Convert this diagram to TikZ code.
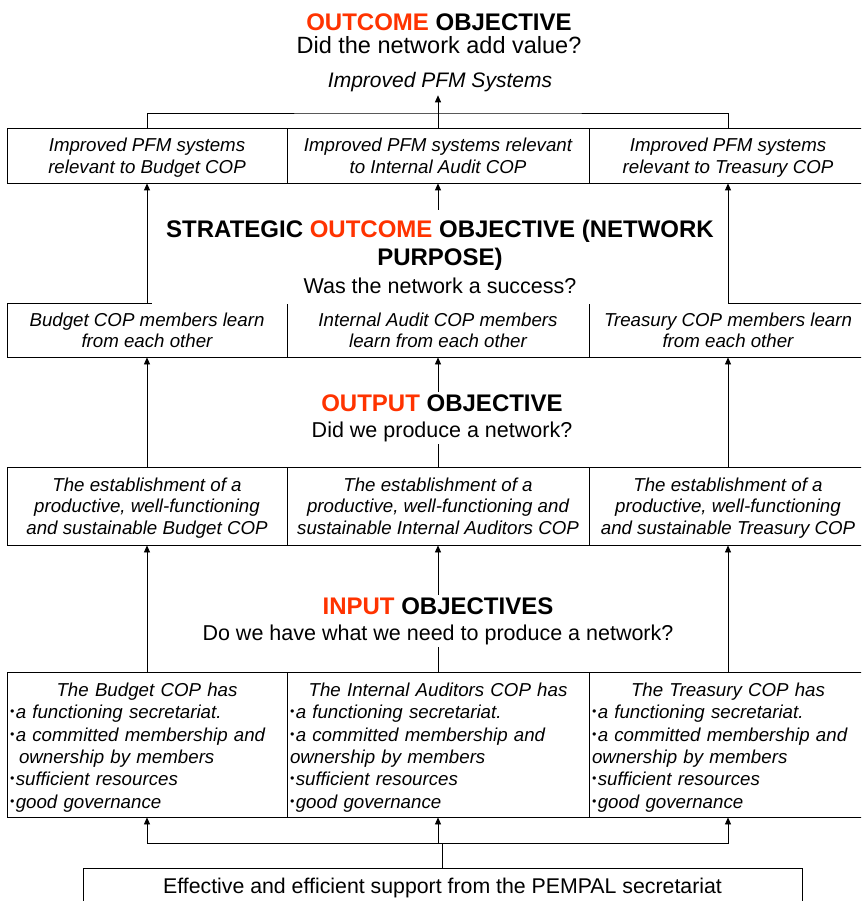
\documentclass[tikz,border=0pt]{standalone}
\usepackage{fontspec}
\setmainfont{Liberation Sans}
\usetikzlibrary{arrows.meta}

\definecolor{flame}{HTML}{FF3300}
\newcommand{\dotmark}{\raisebox{0.3ex}{\scalebox{0.65}{•}}\hspace{1.5pt}}

\begin{document}
\begin{tikzpicture}[x=1pt,y=-1pt,
  cell/.style={draw, line width=0.8pt, align=center, inner sep=0pt, text depth=-1pt,
    font=\fontsize{18.7}{21.5}\selectfont\itshape},
  listcell/.style={draw, line width=0.8pt, align=left, inner xsep=3pt,
    font=\fontsize{18.7}{22.4}\selectfont\itshape},
  heading/.style={align=center, fill=white, inner sep=2pt,
    font=\fontsize{24}{26}\selectfont},
  arr/.style={-{Triangle[length=7pt,width=6pt]}, line width=0.8pt},
  feed/.style={line width=1.3pt}]

\useasboundingbox (0,0) rectangle (861,901);
\clip (0,0) rectangle (861,901);

% outcome
\node[heading] (out-title) at (439,34)
  {\textbf{\textcolor{flame}{OUTCOME} OBJECTIVE}\\[-3pt]
   {\fontsize{23.5}{26}\selectfont Did the network add value?}};
\node[font=\fontsize{21}{24}\selectfont\itshape] (goal) at (440,82) {Improved PFM Systems};

\node[cell, minimum width=280, minimum height=55] (imp-b) at (147,155.5)
  {Improved PFM systems\\relevant to Budget COP};
\node[cell, minimum width=302, minimum height=55] (imp-i) at (438,155.5)
  {Improved PFM systems relevant\\to Internal Audit COP};
\node[cell, minimum width=278, minimum height=55] (imp-t) at (728,155.5)
  {Improved PFM systems\\relevant to Treasury COP};

% network purpose
\node[cell, minimum width=280, minimum height=54] (learn-b) at (147,330)
  {Budget COP members learn\\from each other};
\node[cell, minimum width=302, minimum height=54] (learn-i) at (438,330)
  {Internal Audit COP members\\learn from each other};
\node[cell, minimum width=278, minimum height=54] (learn-t) at (728,330)
  {Treasury COP members learn\\from each other};

% output
\node[cell, minimum width=280, minimum height=78] (est-b) at (147,506)
  {The establishment of a\\productive, well-functioning\\and sustainable Budget COP};
\node[cell, minimum width=302, minimum height=78] (est-i) at (438,506)
  {The establishment of a\\productive, well-functioning and\\sustainable Internal Auditors COP};
\node[cell, minimum width=278, minimum height=78] (est-t) at (728,506)
  {The establishment of a\\productive, well-functioning\\and sustainable Treasury COP};

% input
\node[listcell, text width=274, minimum height=145] (has-b) at (147,744.5)
  {\rule{0pt}{19.5pt}\makebox[274pt]{The Budget COP has}\\
   \dotmark a functioning secretariat.\\
   \dotmark a committed membership and\\
   \hspace*{9pt}ownership by members\\
   \dotmark sufficient resources\\
   \dotmark good governance};
\node[listcell, text width=296, minimum height=145] (has-i) at (438,744.5)
  {\rule{0pt}{19.5pt}\makebox[296pt]{The Internal Auditors COP has}\\
   \dotmark a functioning secretariat.\\
   \dotmark a committed membership and\\
   ownership by members\\
   \dotmark sufficient resources\\
   \dotmark good governance};
\node[listcell, text width=272, minimum height=145] (has-t) at (728,744.5)
  {\rule{0pt}{19.5pt}\makebox[272pt]{The Treasury COP has}\\
   \dotmark a functioning secretariat.\\
   \dotmark a committed membership and\\
   ownership by members\\
   \dotmark sufficient resources\\
   \dotmark good governance};

\node[draw, line width=0.8pt, minimum width=719, minimum height=40,
  font=\fontsize{21.3}{24}\selectfont] (support) at (442.5,888)
  {Effective and efficient support from the PEMPAL secretariat};

% middle links (cut by the headings)
\draw[arr] (imp-i.north) -- (imp-i.north |- goal.south);
\draw[arr] (learn-i.north) -- (imp-i.south);
\draw[arr] (est-i.north) -- (learn-i.south);
\draw[arr] (has-i.north) -- (est-i.south);

\coordinate (join) at (438,113);
\draw[line width=0.8pt] (imp-b.north) |- (join) -| (imp-t.north);

\node[heading, minimum width=576, minimum height=94] (purpose-title) at (440,257)
  {\textbf{STRATEGIC \textcolor{flame}{OUTCOME} OBJECTIVE (NETWORK}\\[2pt]
   \textbf{PURPOSE)}\\[2pt]
   {\fontsize{21.5}{26}\selectfont Was the network a success?}};
\node[heading] (output-title) at (442,418)
  {\textbf{\textcolor{flame}{OUTPUT} OBJECTIVE}\\
   {\fontsize{21.5}{26}\selectfont Did we produce a network?}};
\node[heading] (input-title) at (438,621)
  {\textbf{\textcolor{flame}{INPUT} OBJECTIVES}\\
   {\fontsize{21.5}{26}\selectfont Do we have what we need to produce a network?}};

% side links
\draw[arr] (learn-b.north) -- (imp-b.south);
\draw[arr] (learn-t.north) -- (imp-t.south);
\draw[arr] (est-b.north) -- (learn-b.south);
\draw[arr] (est-t.north) -- (learn-t.south);
\draw[arr] (has-b.north) -- (est-b.south);
\draw[arr] (has-t.north) -- (est-t.south);

% secretariat support
\coordinate (split) at (support.north |- 0,843);
\draw[feed] (support.north) -- (split);
\draw[feed, arr] (split) -| (has-b.south);
\draw[feed, arr] (split) -| (has-t.south);
\draw[feed, arr] (split -| has-i.south) -- (has-i.south);

\end{tikzpicture}
\end{document}
